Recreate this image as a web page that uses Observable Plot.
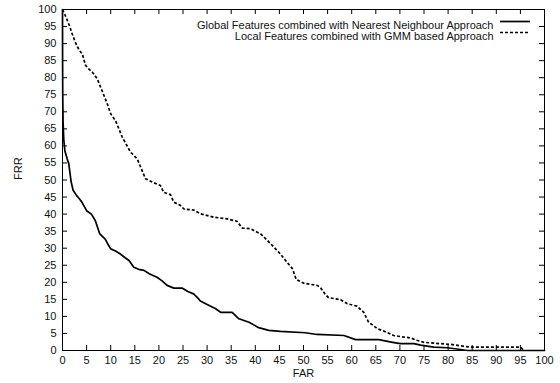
<!DOCTYPE html>
<html>
<head>
<meta charset="utf-8">
<script src="https://cdn.jsdelivr.net/npm/d3@7"></script>
<script src="https://cdn.jsdelivr.net/npm/@observablehq/plot@0.6"></script>
<style>
  html, body { margin: 0; padding: 0; background: white; }
</style>
</head>
<body>
<div id="chart"></div>
<script>
const xTicks = d3.range(0, 101, 5);
const yTicks = d3.range(0, 101, 5);

const seriesNames = [
  "Global Features combined with Nearest Neighbour Approach",
  "Local Features combined with GMM based Approach"
];

// Global features + nearest neighbour (solid)
const globalFAR = [0, 0.02, 0.05, 0.12, 0.27, 0.5, 0.97, 1.3, 1.8, 2.2, 2.9, 3.5, 4.1, 5.0, 6.0, 6.8, 7.7, 8.9, 9.5, 10, 11, 12, 13, 13.8, 14.8, 15.8, 16.9, 18, 19.6, 20.6, 21.7, 23.1, 24.8, 26, 27.2, 28, 28.6, 30, 31.7, 32.8, 35.2, 36.6, 38.7, 40.7, 42.8, 45.2, 50.4, 52.8, 58.4, 60.8, 65.6, 68.5, 70.1, 72.9, 74.3, 77, 79.8, 82.6, 84, 100];
const globalFRR = [100, 85, 75, 67, 61.6, 58.5, 56.2, 54.8, 49.4, 47, 45.5, 44.5, 43.3, 41, 40, 38.1, 34.3, 32.6, 31, 29.8, 29.2, 28.3, 27.2, 26.4, 24.4, 23.8, 23.5, 22.5, 21.5, 20.5, 19.1, 18.3, 18.3, 17.3, 16.6, 15.5, 14.5, 13.5, 12.3, 11.2, 11.2, 9.3, 8.3, 6.7, 5.9, 5.6, 5.2, 4.7, 4.4, 3.2, 3.2, 2.4, 2.0, 2.0, 1.6, 1.0, 0.8, 0.3, 0, 0];

// Local features + GMM (dashed)
const localFAR = [0, 0.5, 1, 1.5, 2, 2.8, 3.5, 4.1, 4.5, 4.8, 5.5, 6.2, 7.2, 8.2, 9.3, 10, 11, 11.7, 12.4, 13.2, 14.1, 15.5, 16.3, 17.2, 18.6, 20.3, 21, 22.4, 23.1, 24.5, 25.2, 27.2, 28.6, 31.4, 34.2, 36.2, 37.3, 39, 41.1, 42.5, 44.2, 45.2, 46.5, 47.7, 48.5, 50.1, 52.8, 53.5, 54.5, 55.2, 57.7, 59.1, 61.1, 62.5, 63.5, 64.5, 65.3, 66.5, 68.7, 70.5, 72.2, 73.5, 75, 77.5, 80.5, 83.3, 84.6, 95, 95.7];
const localFRR = [100, 98.5, 96.8, 95, 92.9, 89.9, 88, 87, 85, 83.6, 82.5, 81.6, 79.7, 76.2, 72.3, 69.4, 67.4, 65, 62.6, 60.5, 58.2, 56.2, 53.5, 50.4, 49.4, 48.4, 46.4, 45.7, 43.5, 42.5, 41.5, 41.2, 40.1, 39.1, 38.6, 37.9, 35.9, 35.7, 34.2, 32.3, 29.8, 28.3, 26, 24, 20.8, 19.7, 19.1, 18.5, 16.5, 15.5, 14.9, 13.7, 13, 11.2, 8.3, 7.3, 6.4, 5.8, 4.4, 4, 3.7, 3, 2.4, 2.1, 1.8, 1.2, 1.0, 1.0, 0];

const globalData = globalFAR.map((x, i) => ({far: x, frr: globalFRR[i]}));
const localData = localFAR.map((x, i) => ({far: x, frr: localFRR[i]}));

const W = 560, H = 383;
const mL = 62, mR = 16, mT = 9, mB = 33;
const innerW = W - mL - mR, innerH = H - mT - mB;
const tickLen = 5;
const font = "'Liberation Sans', Arial, Helvetica, sans-serif";
const dash = "3,2";

const plot = Plot.plot({
  width: W, height: H,
  marginLeft: mL, marginRight: mR, marginTop: mT, marginBottom: mB,
  style: {fontFamily: font, fontSize: "11px", color: "#111", background: "white"},
  x: {domain: [0, 100]},
  y: {domain: [0, 100]},
  marks: [
    // inward ticks on all four sides
    Plot.gridX(xTicks, {stroke: "black", strokeOpacity: 1, insetTop: innerH - tickLen}),
    Plot.gridX(xTicks, {stroke: "black", strokeOpacity: 1, insetBottom: innerH - tickLen}),
    Plot.gridY(yTicks, {stroke: "black", strokeOpacity: 1, insetRight: innerW - tickLen}),
    Plot.gridY(yTicks, {stroke: "black", strokeOpacity: 1, insetLeft: innerW - tickLen}),
    Plot.axisX(xTicks, {tickSize: 0, tickPadding: 6, label: null, fill: "#111"}),
    Plot.axisY(yTicks, {tickSize: 0, tickPadding: 6, label: null, fill: "#111"}),
    Plot.line(globalData, {x: "far", y: "frr", stroke: "black", strokeWidth: 1.7}),
    Plot.line(localData, {x: "far", y: "frr", stroke: "black", strokeWidth: 1.7, strokeDasharray: dash, strokeLinecap: "butt", strokeLinejoin: "miter"}),
    Plot.frame({stroke: "black", strokeWidth: 1}),
    Plot.text([seriesNames[0]], {frameAnchor: "top-right", dx: -51, dy: 12, textAnchor: "end", fill: "#111"}),
    Plot.text([seriesNames[1]], {frameAnchor: "top-right", dx: -51, dy: 23, textAnchor: "end", fill: "#111"}),
    Plot.text(["FRR"], {frameAnchor: "left", dx: -44, rotate: -90, fill: "#111"}),
    Plot.text(["FAR"], {frameAnchor: "bottom", dy: 26, fill: "#111"})
  ]
});

// legend line samples
const svg = d3.select(plot);
const lx1 = W - mR - 44, lx2 = W - mR - 14;
svg.append("line").attr("x1", lx1).attr("x2", lx2).attr("y1", mT + 12.5).attr("y2", mT + 12.5)
  .attr("stroke", "black").attr("stroke-width", 1.7);
svg.append("line").attr("x1", lx1).attr("x2", lx2).attr("y1", mT + 23.5).attr("y2", mT + 23.5)
  .attr("stroke", "black").attr("stroke-width", 1.7).attr("stroke-dasharray", dash);

document.getElementById("chart").appendChild(plot);
</script>
</body>
</html>
